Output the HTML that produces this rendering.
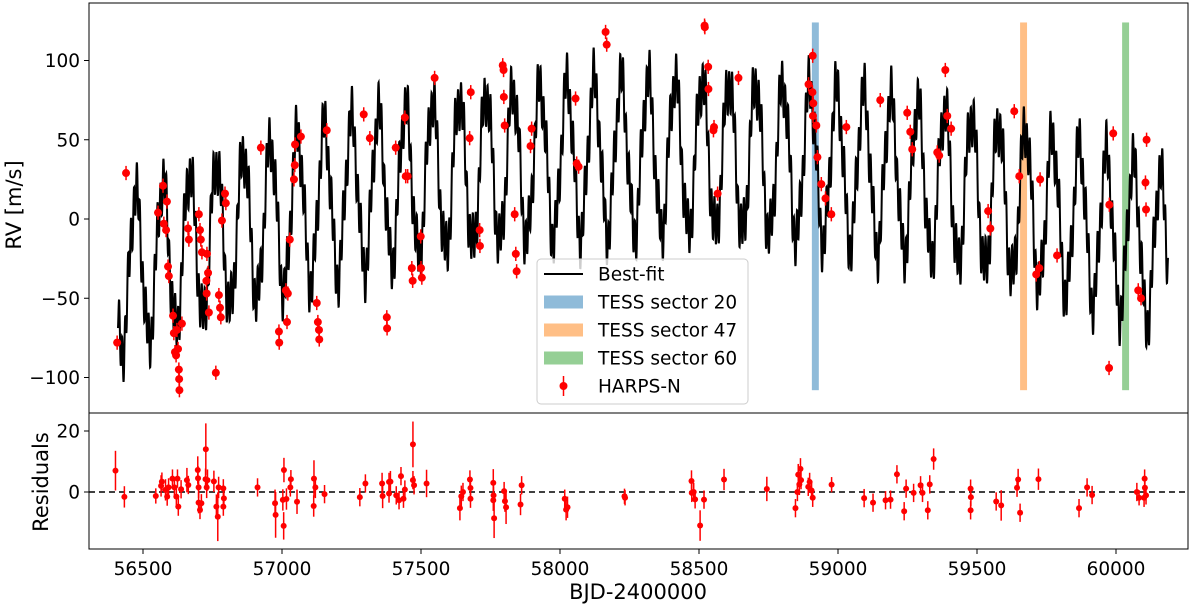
<!DOCTYPE html>
<html><head><meta charset="utf-8">
<style>
html,body{margin:0;padding:0;background:#fff;}
svg{display:block;font-family:"DejaVu Sans","Liberation Sans",sans-serif;}
</style></head>
<body>
<svg id="chart" width="1200" height="605" viewBox="0 0 1200 605" xmlns="http://www.w3.org/2000/svg">
  <g id="bands"></g>
  <g id="curve"></g>
  <g id="topPts"></g>
  <g id="resPts"></g>
  <g id="axes"></g>
  <g id="legend"></g>
</svg>
<script>
// ---- data ----
const tessSectors = ["TESS sector 20","TESS sector 47","TESS sector 60"];
const tessStart = [58906, 59655, 60022];
const tessEnd = [58931, 59680, 60047];
const tessColors = ["#8fbbd9","#ffbf86","#95cf95"];

// best-fit model parameters (trend + periodic signals)
const modelRange = [56410, 60187];
const trendCoef = [40, -70, 58400, 1900];
const periods = [97, 33.5, 10.6];
const amps = [48, 8, 14];
const phases = [0.3, 1.7, 0.9];

const obsTime = [56407,56439,56554,56572,56586,56575,56583,56590,56593,56608,56611,56615,56619,56626,56629,56630,56631,56640,56622,56662,56665,56701,56705,56708,56712,56730,56734,56728,56729,56737,56762,56773,56777,56780,56784,56795,56798,56924,56989,56990,57014,57021,57018,57028,57043,57046,57047,57068,57125,57129,57133,57134,57161,57294,57316,57377,57378,57409,57442,57445,57452,57467,57470,57499,57500,57503,57549,57679,57675,57711,57712,57794,57797,57798,57801,57837,57841,57844,57894,57898,58056,58060,58067,58164,58168,58520,58521,58534,58533,58552,58554,58567,58642,58894,58908,58909,58910,58911,58922,58926,58940,58955,58976,59030,59152,59249,59260,59267,59357,59364,59386,59393,59407,59540,59548,59634,59652,59724,59713,59727,59788,59975,59976,59990,60080,60090,60108,60110,60106];
const obsRV = [-78,29,4,21,11,-3,-7,-30,-36,-61,-72,-84,-86,-82,-95,-101,-108,-66,-70,-6,-13,3,-7,-13,-21,-22,-34,-39,-47,-59,-97,-48,-56,-62,-1,16,10,45,-71,-78,-45,-47,-65,-13,25,34,47,52,-53,-65,-70,-76,56,66,51,-62,-69,45,64,27,27,-31,-39,-11,-31,-37,89,80,51,-7,-17,97,94,77,59,3,-22,-33,46,57,76,35,33,118,110,122,121,82,96,56,58,16,89,85,80,103,65,73,59,39,22,13,3,58,75,67,55,44,42,40,94,65,57,5,-6,68,27,-31,-35,25,-23,-94,9,54,-45,-50,6,50,23];

const resTime = [56401,56433,56546,56565,56568,56581,56587,56592,56606,56613,56620,56627,56624,56637,56658,56663,56697,56698,56700,56700,56705,56710,56726,56725,56729,56732,56755,56764,56769,56772,56789,56791,56789,56912,56975,56977,57007,57006,57003,57016,57030,57032,57054,57114,57115,57120,57153,57280,57300,57360,57362,57390,57385,57385,57411,57421,57428,57437,57442,57471,57471,57475,57520,57640,57645,57651,57676,57678,57678,57760,57760,57763,57761,57799,57802,57806,57862,57858,58017,58022,58027,58232,58234,58473,58474,58481,58486,58504,58518,58590,58744,58847,58854,58857,58861,58865,58867,58893,58898,58905,58909,58977,59094,59126,59171,59189,59212,59238,59245,59272,59297,59304,59323,59330,59344,59477,59478,59477,59569,59587,59644,59648,59655,59721,59867,59896,59914,60075,60083,60103,60104,60101,60108];
const resVal = [7,-1.6,-1.3,2,3.4,0.7,-1.5,1.5,4.4,1.5,-1.5,-4.8,4.4,0.9,3.9,2.3,7.2,4.5,1.5,-3.5,-5.9,-3.7,14,4.2,1.5,3.9,3.5,-4.8,-8.1,1.5,1.2,-2.1,-4.8,1.5,-3.7,-7.5,7.2,-11.1,-2.6,-2.3,1.5,4.2,-3.2,-4.6,4.4,1.5,-0.7,-1.7,2.8,2.8,-1.3,3.4,3.3,-0.5,-1.1,-2.7,5.2,-2.2,0.8,15.6,3.9,2.2,2.8,-5.3,-1.4,0,4.1,1.3,-2.2,3,-2.7,-8.6,-1.1,0.3,-3,-5,2.2,-4.1,-2.2,-5.8,-5,-1.4,-1.9,3.6,-0.3,0,-2.4,-11,-2.5,4.1,1,-5.3,0,5.7,2.5,7.6,3.9,1.7,3.3,0.5,-1.9,2.4,-2,-3.5,-2.7,-2.5,5.8,-6.3,1.1,-0.3,2.2,-0.3,-6,2.5,10.8,1.1,-1.7,-6,-3.1,-4.4,1.4,4.1,-6.8,4.2,-5.3,1.5,-1,0,-1.9,4.4,1.4,-1.9,-1.1];
const resErr = [6.5,3.5,2.5,3.5,3,3.5,3,3,3,3,3,3,3,3,4,3,4.5,4,3.5,3.5,3,3,8.5,3.5,3.5,3.5,3.5,4,8,3.5,3,3,3,3,4.5,7.5,4,4.5,3.5,3.5,3,3,4,3.5,6,3.5,3,3,3,3.5,4,3.5,3,3,3,3,3,3,3,7.5,3,3,4.5,4,3.5,3,3,3,3,4.5,3.5,6.5,3,3,3.5,5.5,3,3.5,3,3.5,3.5,2.5,2.5,3.5,3,3,3,5,3,3.5,4,3,3,3.5,3.5,3.5,3,3,3,3,3,2.5,3,3,3,3,3,3,3,3,3,3,3,3,3.5,3,3,3,3,5,3,3.5,3,3.5,3,3,3,3,2.5,3,3,3,3];

const xTicks = [56500,57000,57500,58000,58500,59000,59500,60000];
const yTicks = [100,50,0,-50,-100];
const rTicks = [20,0];

// ---- layout ----
const L=89,R=1188,T1=3,B1=413,T2=413,B2=549;
const SVGNS="http://www.w3.org/2000/svg";
function xs(t){return 143+(t-56500)*0.2780;}
function ys(v){return 219-1.585*v;}
function yr(v){return 492-3.05*v;}
function mk(tag,attrs,parent){const e=document.createElementNS(SVGNS,tag);for(const k in attrs)e.setAttribute(k,attrs[k]);parent.appendChild(e);return e;}

const defs=mk('defs',{},document.getElementById('chart'));
const c1=mk('clipPath',{id:'clipTop'},defs);mk('rect',{x:L,y:T1,width:R-L,height:B1-T1},c1);

// bands
const gB=document.getElementById('bands');
for(let i=0;i<tessStart.length;i++){
  const r=mk('rect',{x:xs(tessStart[i]),y:ys(124),width:xs(tessEnd[i])-xs(tessStart[i]),height:ys(-108)-ys(124),fill:tessColors[i]},gB);
  
  
}

// curve
function model(t){
  const u=(t-trendCoef[2])/trendCoef[3];
  let v=trendCoef[0]+trendCoef[1]*u*u;
  for(let k=0;k<periods.length;k++)v+=amps[k]*Math.sin(2*Math.PI*t/periods[k]+phases[k]);
  return v;
}
let d='';
for(let t=modelRange[0];t<=modelRange[1];t+=0.5){d+=(d?'L':'M')+xs(t).toFixed(2)+','+ys(model(t)).toFixed(2);}
const cp=mk('path',{d:d,fill:'none',stroke:'#000','stroke-width':2,'clip-path':'url(#clipTop)'},document.getElementById('curve'));



// top points
const gT=document.getElementById('topPts');
for(let i=0;i<obsTime.length;i++){
  const x=xs(obsTime[i]),y=ys(obsRV[i]);
  const l=mk('line',{x1:x,x2:x,y1:ys(obsRV[i]+4.5),y2:ys(obsRV[i]-4.5),stroke:'#ff0000','stroke-width':1.5},gT);
  
  
  const c=mk('circle',{cx:x,cy:y,r:4,fill:'#ff0000'},gT);
  
  
}

// residuals
const gR=document.getElementById('resPts');
const dl=mk('line',{x1:L,x2:R,y1:yr(0),y2:yr(0),stroke:'#000','stroke-width':1.5,'stroke-dasharray':'6,4'},gR);


for(let i=0;i<resTime.length;i++){
  const x=xs(resTime[i]);
  const l=mk('line',{x1:x,x2:x,y1:yr(resVal[i]+resErr[i]),y2:yr(resVal[i]-resErr[i]),stroke:'#ff0000','stroke-width':1.5},gR);
  
  
  const c=mk('circle',{cx:x,cy:yr(resVal[i]),r:3,fill:'#ff0000'},gR);
  
  
}

// axes
const gA=document.getElementById('axes');
const f1=mk('rect',{x:L,y:T1,width:R-L,height:B1-T1,fill:'none',stroke:'#000','stroke-width':1},gA);


const f2=mk('rect',{x:L,y:T2,width:R-L,height:B2-T2,fill:'none',stroke:'#000','stroke-width':1},gA);


for(const v of yTicks){
  const y=ys(v);
  mk('line',{x1:L-5,x2:L,y1:y,y2:y,stroke:'#000'},gA);
  const tx=mk('text',{x:L-9,y:y+6.5,'text-anchor':'end','font-size':18.5},gA);
  tx.textContent=(v<0?'\u2212'+(-v):String(v));
  
  
}
for(const v of rTicks){
  const y=yr(v);
  mk('line',{x1:L-5,x2:L,y1:y,y2:y,stroke:'#000'},gA);
  const tx=mk('text',{x:L-9,y:y+6.5,'text-anchor':'end','font-size':18.5},gA);
  tx.textContent=String(v);
  
  
}
for(const t of xTicks){
  const x=xs(t);
  mk('line',{x1:x,x2:x,y1:B2,y2:B2+5,stroke:'#000'},gA);
  const tx=mk('text',{x:x,y:B2+26,'text-anchor':'middle','font-size':18.5},gA);
  tx.textContent=String(t);
  
  
}
const xl=mk('text',{x:638,y:599,'text-anchor':'middle','font-size':21},gA);
xl.textContent='BJD-2400000';


const yl=mk('text',{x:0,y:0,'text-anchor':'middle','font-size':21,transform:'translate(21,205) rotate(-90)'},gA);
yl.textContent='RV [m/s]';


const rl=mk('text',{x:0,y:0,'text-anchor':'middle','font-size':21,transform:'translate(48,482) rotate(-90)'},gA);
rl.textContent='Residuals';



// legend
const gL=document.getElementById('legend');
const lb=mk('rect',{x:537,y:259,width:211,height:145,rx:4,fill:'#fff','fill-opacity':0.8,stroke:'#cccccc'},gL);


const rows=[274,302,330,358,386];
const labels=['Best-fit'].concat(tessSectors).concat(['HARPS-N']);
const ll=mk('line',{x1:544,x2:583,y1:rows[0],y2:rows[0],stroke:'#000','stroke-width':2},gL);


for(let i=0;i<3;i++){
  const p=mk('rect',{x:544,y:rows[i+1]-6.5,width:39,height:13,fill:tessColors[i]},gL);
  
  
}
mk('line',{x1:563.5,x2:563.5,y1:rows[4]-10,y2:rows[4]+10,stroke:'#ff0000','stroke-width':1.5},gL);
const lm=mk('circle',{cx:563.5,cy:rows[4],r:4,fill:'#ff0000'},gL);


for(let i=0;i<labels.length;i++){
  const tx=mk('text',{x:598,y:rows[i]+6.5,'font-size':18.5},gL);
  tx.textContent=labels[i];
  
  
}
</script>
</body></html>
